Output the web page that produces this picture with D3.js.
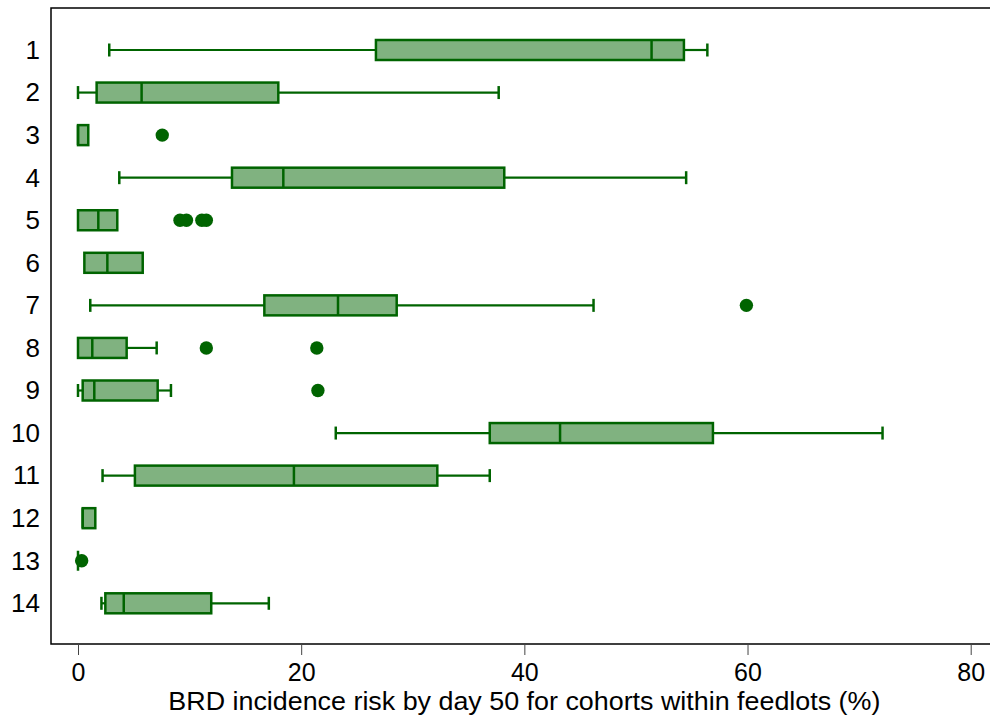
<!DOCTYPE html>
<html>
<head>
<meta charset="utf-8">
<script src="https://cdn.jsdelivr.net/npm/d3@7"></script>
<style>
  body { margin: 0; background: #fff; }
  svg { display: block; font-family: "Liberation Sans", Arial, sans-serif; }
</style>
</head>
<body>
<svg id="chart" width="990" height="718"></svg>
<script>
// data (percent)
const cohorts = ["1", "2", "3", "4", "5", "6", "7", "8", "9", "10", "11", "12", "13", "14"];
const lowWhisker  = [2.8, 0.0, 0.0, 3.7, 0.0, 0.57, 1.1, 0.0, 0.0, 23.1, 2.2, 0.42, 0.0, 2.1];
const q1          = [26.7, 1.67, 0.0, 13.8, 0.0, 0.57, 16.7, 0.0, 0.42, 36.9, 5.1, 0.42, 0.0, 2.45];
const median      = [51.4, 5.7, 0.0, 18.4, 1.82, 2.63, 23.3, 1.28, 1.46, 43.2, 19.35, 0.42, 0.0, 4.1];
const q3          = [54.3, 17.95, 0.92, 38.2, 3.52, 5.8, 28.56, 4.36, 7.14, 56.9, 32.2, 1.55, 0.0, 11.94];
const highWhisker = [56.4, 37.7, 0.92, 54.5, 3.52, 5.8, 46.2, 7.05, 8.33, 72.1, 36.9, 1.55, 0.0, 17.1];
const outliers = [[], [], [7.55], [], [9.14, 9.72, 11.1, 11.5], [], [59.9], [11.5, 21.4], [21.5], [], [], [], [0.33], []];
const xTicks = [0, 20, 40, 60, 80];
const xTitle = "BRD incidence risk by day 50 for cohorts within feedlots (%)";

const frame = { left: 51, top: 8, right: 990, bottom: 644 };
const fillColor = "#80b280";
const lineColor = "#006400";

const svg = d3.select("#chart");

const x = d3.scaleLinear().domain([0, 80]).range([78, 970.7]);
const y = d3.scalePoint().domain(cohorts).range([50, 603.3]);

const rows = cohorts.map((c, i) => ({
    name: c,
    lo: lowWhisker[i], q1: q1[i], med: median[i], q3: q3[i], hi: highWhisker[i],
    out: outliers[i]
}));

// frame (top, left, bottom)
svg.append("path")
    .attr("d", `M${frame.right},${frame.top}H${frame.left}V${frame.bottom}H${frame.right}`)
    .attr("fill", "none")
    .attr("stroke", "#000")
    .attr("stroke-width", 1.5);

// x axis
const xAxis = svg.append("g")
    .attr("transform", `translate(0,${frame.bottom})`)
    .call(d3.axisBottom(x).tickValues(xTicks).tickSize(11).tickPadding(8));
xAxis.select(".domain").remove();
xAxis.selectAll(".tick line").attr("stroke", "#444").attr("stroke-width", 1);
xAxis.selectAll(".tick text").attr("fill", "#000").style("font-size", "25px");

// y axis
const yAxis = svg.append("g")
    .attr("transform", `translate(${frame.left},0)`)
    .call(d3.axisLeft(y).tickSize(0).tickPadding(11));
yAxis.select(".domain").remove();
yAxis.selectAll(".tick text").attr("fill", "#000").style("font-size", "26px");

// axis title
svg.append("text")
    .attr("x", x(40))
    .attr("y", 710)
    .attr("text-anchor", "middle")
    .attr("textLength", 712)
    .attr("lengthAdjust", "spacingAndGlyphs")
    .style("font-size", "25px")
    .text(xTitle);

// boxes
const boxH = 20;
const capH = 13;
const g = svg.selectAll(".box")
    .data(rows)
    .enter()
    .append("g")
    .attr("class", "box")
    .attr("transform", d => `translate(0,${y(d.name)})`);

// whiskers
g.filter(d => d.lo < d.q1).append("line")
    .attr("x1", d => x(d.lo)).attr("x2", d => x(d.q1))
    .attr("stroke", lineColor).attr("stroke-width", 2.2);
g.filter(d => d.lo < d.q1).append("line")
    .attr("x1", d => x(d.lo)).attr("x2", d => x(d.lo))
    .attr("y1", -capH / 2).attr("y2", capH / 2)
    .attr("stroke", lineColor).attr("stroke-width", 2.5);
g.filter(d => d.hi > d.q3).append("line")
    .attr("x1", d => x(d.q3)).attr("x2", d => x(d.hi))
    .attr("stroke", lineColor).attr("stroke-width", 2.2);
g.filter(d => d.hi > d.q3).append("line")
    .attr("x1", d => x(d.hi)).attr("x2", d => x(d.hi))
    .attr("y1", -capH / 2).attr("y2", capH / 2)
    .attr("stroke", lineColor).attr("stroke-width", 2.5);

// box
g.filter(d => d.q3 > d.q1).append("rect")
    .attr("x", d => x(d.q1))
    .attr("y", -boxH / 2)
    .attr("width", d => x(d.q3) - x(d.q1))
    .attr("height", boxH)
    .attr("fill", fillColor)
    .attr("stroke", lineColor)
    .attr("stroke-width", 2.5);

// median
g.append("line")
    .attr("x1", d => x(d.med)).attr("x2", d => x(d.med))
    .attr("y1", -boxH / 2).attr("y2", boxH / 2)
    .attr("stroke", lineColor).attr("stroke-width", 2.5);

// outside values
g.selectAll(".out")
    .data(d => d.out)
    .enter()
    .append("circle")
    .attr("class", "out")
    .attr("cx", v => x(v))
    .attr("cy", 0)
    .attr("r", 6.7)
    .attr("fill", lineColor);
</script>
</body>
</html>
